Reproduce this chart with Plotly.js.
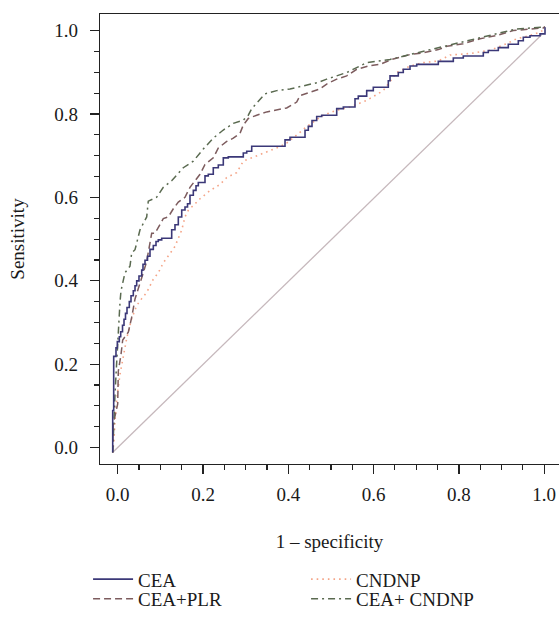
<!DOCTYPE html>
<html>
<head>
<meta charset="utf-8">
<script src="https://cdn.plot.ly/plotly-3.0.1.min.js"></script>
<style>html,body{margin:0;padding:0;background:#fff;}#chart{width:559px;height:618px;}</style>
</head>
<body>
<div id="chart"></div>
<script>
// ---- Data ----
const seriesNames = ["CEA", "CEA+PLR", "CNDNP", "CEA+ CNDNP"];

const ceaX = [-0.0117,-0.0094,-0.0040,-0.0009,0.0038,0.0070,0.0113,0.0148,0.0183,0.0218,0.0272,0.0312,0.0366,0.0406,0.0445,0.0499,0.0563,0.0593,0.0640,0.0699,0.0757,0.0835,0.0898,0.0952,0.1032,0.1266,0.1343,0.1421,0.1501,0.1578,0.1637,0.1695,0.1773,0.1836,0.1890,0.2047,0.2124,0.2241,0.2359,0.2476,0.2593,0.2945,0.3025,0.3142,0.3376,0.3923,0.4040,0.4392,0.4469,0.4556,0.4666,0.4783,0.5135,0.5290,0.5564,0.5641,0.5838,0.5993,0.6345,0.6385,0.6579,0.6696,0.6854,0.7011,0.7517,0.7869,0.8103,0.8572,0.8689,0.8924,0.9158,0.9393,0.9510,0.9667,0.9902,1.0019,1.0019];
const ceaY = [-0.0118,0.0888,0.2187,0.2392,0.2541,0.2659,0.2777,0.2935,0.3077,0.3218,0.3360,0.3502,0.3643,0.3762,0.3880,0.3998,0.4116,0.4257,0.4399,0.4493,0.4588,0.4753,0.4848,0.4942,0.4982,0.5020,0.5226,0.5344,0.5532,0.5698,0.5769,0.5847,0.6052,0.6170,0.6281,0.6359,0.6517,0.6555,0.6713,0.6777,0.6949,0.6973,0.7067,0.7107,0.7226,0.7226,0.7381,0.7445,0.7610,0.7705,0.7846,0.7941,0.7972,0.8130,0.8170,0.8366,0.8430,0.8562,0.8642,0.8798,0.8916,0.8996,0.9074,0.9152,0.9192,0.9263,0.9346,0.9393,0.9476,0.9523,0.9594,0.9676,0.9759,0.9842,0.9877,0.9924,1.0083];

const plrX = [-0.0117,-0.0103,0.0000,0.0014,0.0077,0.0117,0.0249,0.0328,0.0406,0.0563,0.0600,0.0680,0.0717,0.0757,0.0797,0.0875,0.1069,0.1186,0.1304,0.1421,0.1578,0.1655,0.1695,0.1813,0.1930,0.2047,0.2241,0.2359,0.2556,0.2710,0.2868,0.2945,0.3062,0.3259,0.3494,0.3962,0.4197,0.4274,0.4509,0.4743,0.4900,0.5135,0.5369,0.5604,0.5876,0.6150,0.6424,0.6854,0.7165,0.7517,0.7714,0.8103,0.8495,0.8886,0.9275,0.9667,0.9979,1.0019];
const plrY = [-0.0118,0.0574,0.1046,0.1832,0.2227,0.2581,0.2770,0.3124,0.3566,0.4038,0.4194,0.4470,0.4666,0.4902,0.5138,0.5138,0.5492,0.5532,0.5728,0.5887,0.6005,0.6163,0.6241,0.6399,0.6555,0.6791,0.6949,0.7185,0.7344,0.7421,0.7540,0.7736,0.7894,0.7972,0.8052,0.8146,0.8288,0.8444,0.8524,0.8602,0.8720,0.8838,0.8916,0.9074,0.9152,0.9192,0.9310,0.9428,0.9469,0.9546,0.9624,0.9688,0.9806,0.9884,1.0002,1.0042,1.0066,1.0097];

const cndX = [-0.0117,-0.0087,-0.0063,-0.0009,0.0054,0.0117,0.0171,0.0211,0.0328,0.0445,0.0563,0.0680,0.0835,0.0952,0.1069,0.1226,0.1343,0.1421,0.1501,0.1578,0.1655,0.1812,0.1930,0.2164,0.2399,0.2556,0.2790,0.2945,0.3259,0.3531,0.3728,0.3962,0.4197,0.4431,0.4703,0.4821,0.5135,0.5447,0.5838,0.6227,0.6385,0.6542,0.6854,0.7165,0.7517,0.7791,0.8260,0.8729,0.9121,0.9355,0.9667,0.9902,1.0019];
const cndY = [-0.0118,0.0179,0.0652,0.1282,0.1754,0.2068,0.2392,0.2621,0.3093,0.3407,0.3573,0.3721,0.4038,0.4194,0.4430,0.4666,0.4824,0.5020,0.5218,0.5532,0.5691,0.5847,0.5969,0.6163,0.6312,0.6477,0.6595,0.6871,0.6989,0.7107,0.7185,0.7303,0.7499,0.7698,0.7894,0.7972,0.8090,0.8170,0.8326,0.8562,0.8780,0.8996,0.9152,0.9233,0.9273,0.9415,0.9452,0.9530,0.9688,0.9806,0.9884,0.9965,1.0042];

const combX = [-0.0117,-0.0098,-0.0063,-0.0023,0.0007,0.0054,0.0077,0.0131,0.0171,0.0288,0.0328,0.0406,0.0445,0.0523,0.0680,0.0717,0.0914,0.1069,0.1266,0.1538,0.1773,0.2007,0.2241,0.2476,0.2710,0.2945,0.3062,0.3142,0.3454,0.3728,0.4040,0.4352,0.4703,0.4900,0.5369,0.5838,0.6385,0.6854,0.7517,0.8103,0.8886,0.9355,0.9979,1.0019];
const combY = [-0.0118,0.0574,0.1282,0.2061,0.2699,0.3485,0.3761,0.4038,0.4194,0.4352,0.4666,0.4746,0.4902,0.5225,0.5532,0.5910,0.6005,0.6241,0.6399,0.6713,0.6871,0.7162,0.7421,0.7617,0.7776,0.7854,0.7972,0.8130,0.8484,0.8562,0.8602,0.8680,0.8760,0.8838,0.8996,0.9233,0.9310,0.9428,0.9587,0.9728,0.9924,1.0042,1.0083,1.0097];

const refX = [-0.012, 0.994];
const refY = [-0.012, 0.990];

const xTickVals = [0, 0.2, 0.4, 0.6, 0.8, 1.0];
const yTickVals = [0, 0.2, 0.4, 0.6, 0.8, 1.0];

// ---- Chart ----
const FONT = "Liberation Serif, Times New Roman, serif";
const traces = [
  {x: refX, y: refY, mode: "lines", line: {color: "#c6b8bc", width: 1.3}, showlegend: false, hoverinfo: "skip"},
  {x: cndX, y: cndY, name: seriesNames[2], mode: "lines", legend: "legend", legendrank: 2,
   line: {color: "#f4a487", width: 1.6, dash: "1.6px,4px"}},
  {x: plrX, y: plrY, name: seriesNames[1], mode: "lines", legend: "legend2", legendrank: 1,
   line: {color: "#7d5c5e", width: 1.5, dash: "7px,4px"}},
  {x: combX, y: combY, name: seriesNames[3], mode: "lines", legend: "legend2", legendrank: 2,
   line: {color: "#5a6a50", width: 1.5, dash: "7px,4px,2px,4px"}},
  {x: ceaX, y: ceaY, name: seriesNames[0], mode: "lines", legend: "legend", legendrank: 1,
   line: {color: "#3b3878", width: 1.6, shape: "vh"}}
];

const axisCommon = {
  showgrid: false, zeroline: false, showline: true, linecolor: "#222", linewidth: 1.3,
  ticks: "outside", ticklen: 9, tickwidth: 1.2, tickcolor: "#222",
  tickformat: ".1f", tickfont: {family: FONT, size: 19, color: "#1a1a1a"},
  minor: {dtick: 0.05, ticks: "outside", ticklen: 5, tickwidth: 1.1, tickcolor: "#222"},
  automargin: false
};

const legendCommon = {
  orientation: "h", x: -0.026, xanchor: "left", yanchor: "middle",
  entrywidth: 163, entrywidthmode: "pixels", traceorder: "normal",
  font: {family: FONT, size: 19, color: "#1a1a1a"}, bgcolor: "rgba(0,0,0,0)",
  itemwidth: 40
};

const layout = {
  width: 559, height: 618,
  margin: {l: 100, r: 0, t: 14, b: 147},
  paper_bgcolor: "#fff", plot_bgcolor: "#fff",
  font: {family: FONT, size: 19, color: "#1a1a1a"},
  xaxis: Object.assign({}, axisCommon, {
    range: [-0.0415, 1.0347], tickvals: xTickVals, mirror: true, ticklabelstandoff: 4,
    title: {text: "1 – specificity", font: {family: FONT, size: 19}, standoff: 30}
  }),
  yaxis: Object.assign({}, axisCommon, {
    range: [-0.0394, 1.0400], tickvals: yTickVals, ticklabelstandoff: 8,
    title: {text: "Sensitivity", font: {family: FONT, size: 19}, standoff: 24}
  }),
  showlegend: true,
  legend: Object.assign({}, legendCommon, {y: -0.2561}),
  legend2: Object.assign({}, legendCommon, {y: -0.2998})
};

Plotly.newPlot("chart", traces, layout, {staticPlot: true, displayModeBar: false});
</script>
</body>
</html>
